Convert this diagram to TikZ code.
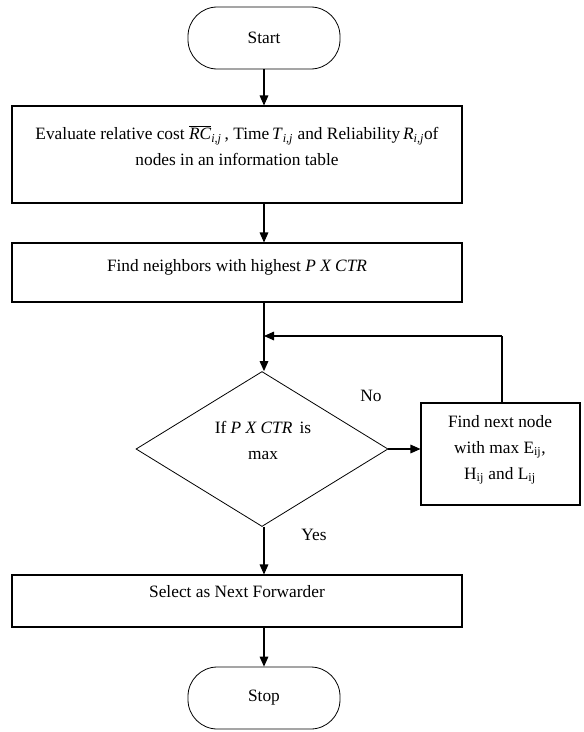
\documentclass[tikz,border=0pt]{standalone}
\usepackage{fontspec}
\setmainfont{Liberation Serif}
\usetikzlibrary{shapes.geometric,arrows.meta}
\newcommand{\ital}[1]{\textit{#1}}
\newcommand{\isub}[1]{\textsubscript{\textit{#1}}}
\begin{document}
\begin{tikzpicture}[x=0.75pt,y=-0.75pt,
  every node/.style={font=\fontsize{13pt}{19.5pt}\selectfont},
  term/.style={draw, rounded corners=22pt, minimum width=114pt, minimum height=46.5pt, inner sep=0pt, line width=0.6pt},
  procbox/.style={draw, rectangle, inner sep=0pt, line width=0.8pt},
  decide/.style={draw, diamond, inner sep=0pt, line width=0.6pt},
  txt/.style={align=center, inner sep=0pt},
  arr/.style={-{Triangle[length=7.5pt,width=6.5pt]}, line width=0.8pt}]
\useasboundingbox (0,0) rectangle (584,732);

\node[term] (start) at (264,38) {Start};
\node[procbox, minimum width=337.5pt, minimum height=72.75pt] (b1) at (237,154.5) {};
\node[txt] (t1) at (237,146) {Evaluate relative cost $\overline{\mbox{\ital{RC}}}$\isub{i,j}\,, Time\,\ital{T}\isub{i,j} and Reliability\,\ital{R}\isub{i,j}of\\ nodes in an information table};
\node[procbox, minimum width=337.5pt, minimum height=44.25pt] (b2) at (237,272.5) {};
\node[txt] (t2) at (237,267) {Find neighbors with highest \ital{P X CTR}};
\node[decide, minimum width=189pt, minimum height=116.25pt] (d) at (262,449) {};
\node[txt] (td) at (263,440) {If \ital{P X CTR}\, is\\ max};
\node[procbox, minimum width=119.25pt, minimum height=76.5pt] (b3) at (500.5,454) {};
\node[txt] (t3) at (500,450) {Find next node\\ with max E\textsubscript{ij},\\ H\textsubscript{ij} and L\textsubscript{ij}};
\node[procbox, minimum width=337.5pt, minimum height=39pt] (b4) at (237,601) {};
\node[txt] (t4) at (237,592) {Select as Next Forwarder};
\node[term] (stop) at (264,698) {Stop};

\node[txt] (no) at (371,396) {No};
\node[txt] (yes) at (314,535) {Yes};

\coordinate (loop) at (502,336);
\draw[arr] (start.south) -- (start.south |- b1.north);
\draw[arr] (start.south |- b1.south) -- (start.south |- b2.north);
\draw[arr] (start.south |- b2.south) -- (d.north -| start.south);
\draw[line width=0.8pt] (b3.north -| loop) -- (loop);
\draw[arr] (loop) -- (loop -| start.south);
\draw[arr] (d.east) -- (b3.west |- d.east);
\draw[arr] (d.south -| start.south) -- (start.south |- b4.north);
\draw[arr] (start.south |- b4.south) -- (stop.north);
\end{tikzpicture}
\end{document}
